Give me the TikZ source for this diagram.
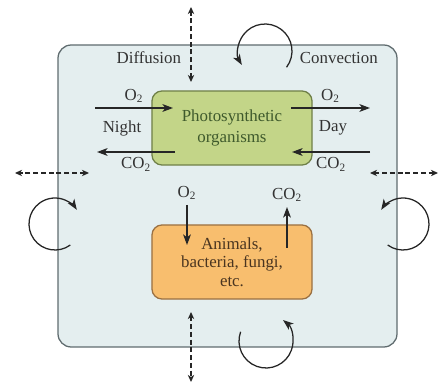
\documentclass[tikz,border=0pt]{standalone}
\usepackage{fontspec}
\setmainfont{Liberation Serif}
\usetikzlibrary{arrows.meta,positioning}
\definecolor{poolfill}{HTML}{E4EEEF}
\definecolor{poolline}{HTML}{5F6B6E}
\definecolor{algafill}{HTML}{C3D588}
\definecolor{algaline}{HTML}{6F8048}
\definecolor{algatext}{HTML}{3F5A2C}
\definecolor{animfill}{HTML}{F8BE6E}
\definecolor{animline}{HTML}{9A7042}
\definecolor{animtext}{HTML}{4A3520}
\definecolor{labeltext}{HTML}{333333}

\begin{document}
\begin{tikzpicture}[x=0.025cm,y=0.025cm,>={Stealth[length=7.5pt,width=5.5pt,inset=2pt]},
  font=\fontsize{12}{13}\selectfont,text=labeltext,
  box/.style={draw,line width=0.9pt,rounded corners=0.25cm,minimum width=4cm,minimum height=1.85cm,align=center},
  flow/.style={->,line width=1.1pt,draw=black!85},
  diff/.style={{Stealth[length=5pt,width=4.5pt,inset=1.5pt]}-{Stealth[length=5pt,width=4.5pt,inset=1.5pt]},line width=0.9pt,dash pattern=on 3.5pt off 2pt,draw=black!85},
  turn/.style={->,line width=0.9pt,draw=black!85}]
\useasboundingbox (0,0) rectangle (440,387);
\draw[fill=poolfill,draw=poolline,line width=0.9pt,rounded corners=0.33cm] (58,40) rectangle (397,342);
\node[box,fill=algafill,draw=algaline,text=algatext,font=\fontsize{12}{15}\selectfont] (algae) at (232,259) {Photosynthetic\\organisms};
\node[box,fill=animfill,draw=animline,text=animtext] (animals) at (232,125) {Animals,\\bacteria, fungi,\\etc.};
% gas exchange of the algae
\coordinate (nightin) at (95,279);
\coordinate (nightend) at (173,279);
\coordinate (nightco) at (175,235);
\coordinate (nightout) at (97,235);
\coordinate (dayo) at (291,279);
\coordinate (dayout) at (370,279);
\coordinate (dayin) at (370,235);
\coordinate (dayend) at (292,235);
\draw[flow] (nightin) -- (nightend) node[midway,above] (o2night) {O\textsubscript{2}};
\draw[flow] (nightco) -- (nightout) node[midway,below] (co2night) {CO\textsubscript{2}};
\draw[flow] (dayo) -- (dayout) node[midway,above] (o2day) {O\textsubscript{2}};
\draw[flow] (dayin) -- (dayend) node[midway,below] (co2day) {CO\textsubscript{2}};
\node (night) at (122,259) {Night};
\node (day) at (333,259) {Day};
% respiration
\coordinate (respin) at (187,182);
\coordinate (respend) at (187,142);
\coordinate (respco) at (287,139);
\coordinate (respout) at (287,180);
\draw[flow] (respin) node[above] (o2resp) {O\textsubscript{2}} -- (respend);
\draw[flow] (respco) -- (respout) node[above] (co2resp) {CO\textsubscript{2}};
% diffusion
\coordinate (dtop) at (191,380);
\coordinate (dtopin) at (191,305);
\coordinate (dbot) at (191,5);
\coordinate (dbotin) at (191,75);
\coordinate (dleft) at (15,214);
\coordinate (dleftin) at (89,214);
\coordinate (dright) at (438,214);
\coordinate (drightin) at (370,214);
\draw[diff] (dtopin) -- (dtop);
\draw[diff] (dbotin) -- (dbot);
\draw[diff] (dleftin) -- (dleft);
\draw[diff] (drightin) -- (dright);
\node[left] (diffusion) at (186,329) {Diffusion};
\node[right] (convection) at (295,329) {Convection};
% convection
\draw[turn] (265,336) ++(-37:27) arc[start angle=-37,end angle=211,radius=27];
\draw[turn] (266,46) ++(160:27) arc[start angle=160,end angle=411,radius=27];
\draw[turn] (55,163) ++(-54:26) arc[start angle=-54,end angle=-327,radius=26];
\draw[turn] (403,163) ++(234:26) arc[start angle=234,end angle=507,radius=26];
\end{tikzpicture}
\end{document}
